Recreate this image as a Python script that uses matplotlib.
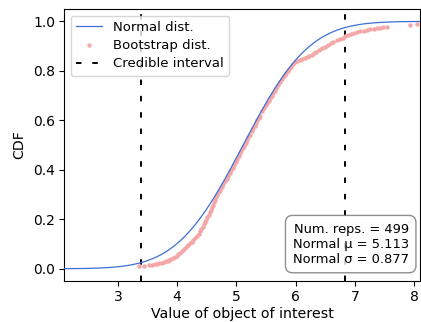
import math
import numpy as np
import matplotlib
matplotlib.use("Agg")
import matplotlib.pyplot as plt

# ---- data ----
mu = 5.113
sigma = 0.877
n_reps = 499
ci_bounds = [3.394, 6.832]

boot_x = [
    3.36, 3.44, 3.53, 3.57, 3.62, 3.66, 3.70, 3.74, 3.78, 3.81,
    3.84, 3.87, 3.90, 3.93, 3.96, 3.99, 4.02, 4.05, 4.08, 4.10,
    4.13, 4.16, 4.19, 4.22, 4.245, 4.27, 4.30, 4.33, 4.36, 4.385,
    4.41, 4.43, 4.45, 4.47, 4.49, 4.51, 4.53, 4.55, 4.565, 4.58,
    4.60, 4.62, 4.64, 4.66, 4.68, 4.70, 4.72, 4.755, 4.78, 4.807,
    4.833, 4.861, 4.886, 4.911, 4.936, 4.963, 4.988, 5.015, 5.039, 5.063,
    5.085, 5.107, 5.13, 5.153, 5.177, 5.20, 5.226, 5.256, 5.285, 5.308,
    5.330, 5.355, 5.378, 5.399, 5.438, 5.469, 5.495, 5.519, 5.543, 5.568,
    5.593, 5.618, 5.644, 5.670, 5.703, 5.736, 5.769, 5.804, 5.825, 5.843,
    5.868, 5.895, 5.918, 5.95, 5.99, 6.03, 6.07, 6.11, 6.15, 6.19,
    6.23, 6.272, 6.31, 6.35, 6.39, 6.441, 6.49, 6.54, 6.59, 6.637,
    6.69, 6.74, 6.79, 6.834, 6.88, 6.93, 6.98, 7.032, 7.09, 7.15,
    7.20, 7.26, 7.32, 7.37, 7.42, 7.47, 7.54, 7.93, 8.05]
boot_cdf = [
    0.010, 0.012, 0.014, 0.016, 0.018, 0.020, 0.022, 0.024, 0.027, 0.030,
    0.033, 0.036, 0.040, 0.043, 0.048, 0.053, 0.059, 0.065, 0.071, 0.077,
    0.083, 0.090, 0.097, 0.104, 0.110, 0.118, 0.126, 0.134, 0.142, 0.151,
    0.160, 0.169, 0.179, 0.188, 0.198, 0.208, 0.218, 0.229, 0.239, 0.249,
    0.259, 0.269, 0.279, 0.289, 0.299, 0.310, 0.320, 0.331, 0.342, 0.353,
    0.364, 0.376, 0.387, 0.398, 0.409, 0.421, 0.432, 0.444, 0.455, 0.466,
    0.476, 0.487, 0.498, 0.509, 0.520, 0.531, 0.542, 0.556, 0.569, 0.579,
    0.589, 0.600, 0.610, 0.619, 0.636, 0.649, 0.660, 0.670, 0.680, 0.690,
    0.700, 0.710, 0.720, 0.730, 0.742, 0.754, 0.766, 0.778, 0.785, 0.791,
    0.800, 0.809, 0.817, 0.826, 0.834, 0.840, 0.844, 0.849, 0.853, 0.857,
    0.860, 0.864, 0.871, 0.877, 0.884, 0.891, 0.898, 0.905, 0.912, 0.918,
    0.924, 0.929, 0.934, 0.939, 0.944, 0.949, 0.953, 0.957, 0.960, 0.963,
    0.966, 0.968, 0.971, 0.973, 0.975, 0.977, 0.979, 0.986, 0.989]

x_limits = (2.09, 8.10)
x_ticks = [3, 4, 5, 6, 7, 8]
y_ticks = [0.0, 0.2, 0.4, 0.6, 0.8, 1.0]

# ---- figure ----
fig = plt.figure(figsize=(4.21, 3.22), dpi=100)
ax = fig.add_axes([0.152, 0.127, 0.846, 0.845])

xs = np.linspace(x_limits[0], x_limits[1], 400)
norm_cdf = np.array([0.5 * (1 + math.erf((v - mu) / (sigma * math.sqrt(2)))) for v in xs])

ax.plot(xs, norm_cdf, color="#3f6fd6", lw=0.9, label="Normal dist.", zorder=3)
ax.plot(boot_x, boot_cdf, ls="none", marker="o", ms=3.2, mec="none",
        color="#f4a7a7", label="Bootstrap dist.", zorder=2)
for i, b in enumerate(ci_bounds):
    ax.axvline(b, color="black", lw=1.4, ls=(0, (2.8, 5.6)),
               label="Credible interval" if i == 0 else None, zorder=1)

ax.set_xlim(*x_limits)
ax.set_ylim(-0.05, 1.05)
ax.set_xticks(x_ticks)
ax.set_yticks(y_ticks)
ax.tick_params(labelsize=10, pad=3)
ax.set_xlabel("Value of object of interest", fontsize=10.2, labelpad=2)
ax.set_ylabel("CDF", fontsize=10.2, labelpad=5)

ax.legend(loc="upper left", fontsize=9.5, framealpha=0.8, labelspacing=0.4,
          borderaxespad=0.5)

txt = f"Num. reps. = {n_reps}\nNormal μ = {mu:.3f}\nNormal σ = {sigma:.3f}"
ax.text(0.968, 0.057, txt, transform=ax.transAxes, ha="right", va="bottom",
        fontsize=9.4,
        bbox=dict(boxstyle="round,pad=0.55", facecolor="white", edgecolor="0.45", alpha=0.8))

fig.savefig("out.png", dpi=100)
